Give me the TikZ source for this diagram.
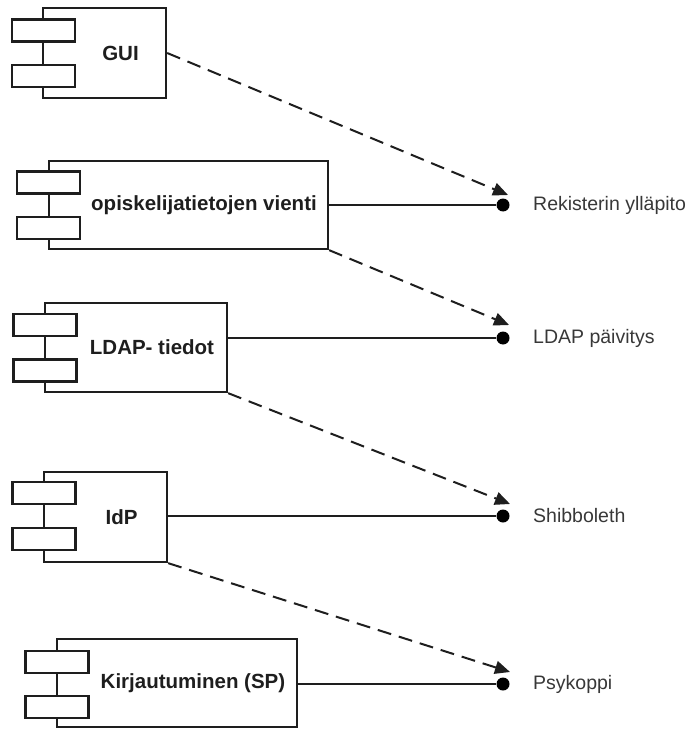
\documentclass[tikz,border=0pt]{standalone}
\usepackage{fontspec}
\setmainfont{Liberation Sans}
\usetikzlibrary{arrows.meta}
\definecolor{ink}{HTML}{1E1E1E}
\definecolor{labelink}{HTML}{383838}
\begin{document}
\begin{tikzpicture}[x=1pt,y=-1pt,
  compbox/.style={draw=ink,line width=2.3pt,fill=white,inner sep=0pt,
    minimum width=#1},
  comptab/.style={draw=ink,line width=2.3pt,fill=white,inner sep=0pt,
    minimum width=63pt,minimum height=22pt},
  compname/.style={text=ink,inner sep=0pt,font=\fontsize{20.5}{24}\selectfont\bfseries},
  port/.style={circle,fill=black,inner sep=0pt,minimum size=13pt},
  portname/.style={text=labelink,inner sep=0pt,anchor=west,font=\fontsize{19.5}{23}\selectfont},
  provide/.style={draw=ink,line width=2pt},
  depend/.style={draw=ink,line width=2pt,dash pattern=on 14pt off 8pt,
    -{Triangle[length=15pt,width=13pt]}}]
\useasboundingbox (0,0) rectangle (693,730);

% components: main body, two tabs on the left edge, name
\node[compbox=123pt,minimum height=90pt] (gui) at (104.5,53) {};
\node[comptab] (gui-t1) at (43.5,30.5) {};
\node[comptab] (gui-t2) at (43.5,76) {};
\node[compname] (gui-n) at (120.5,53) {GUI};

\node[compbox=279pt,minimum height=88pt] (vienti) at (188.5,205) {};
\node[comptab] (vienti-t1) at (48.5,182.5) {};
\node[comptab] (vienti-t2) at (48.5,228) {};
\node[compname] (vienti-n) at (204,205) {opiskelijatietojen vienti};

\node[compbox=182pt,minimum height=89pt] (ldap) at (136,347.5) {};
\node[comptab] (ldap-t1) at (45,325) {};
\node[comptab] (ldap-t2) at (45,370.5) {};
\node[compname] (ldap-n) at (152,347.5) {LDAP- tiedot};

\node[compbox=123pt,minimum height=90pt] (idp) at (105.5,517) {};
\node[comptab] (idp-t1) at (44,493) {};
\node[comptab] (idp-t2) at (44,539) {};
\node[compname] (idp-n) at (121.5,517) {IdP};

\node[compbox=240pt,minimum height=88pt] (sp) at (177,683) {};
\node[comptab] (sp-t1) at (57,662) {};
\node[comptab] (sp-t2) at (57,707) {};
\node[compname] (sp-n) at (193,683) {Kirjautuminen (SP)};

% provided interfaces
\node[port] (p1) at (503,205) {};
\node[port] (p2) at (503,338) {};
\node[port] (p3) at (503,516) {};
\node[port] (p4) at (503,684) {};
\node[portname] (p1-n) at (533,205) {Rekisterin ylläpito};
\node[portname] (p2-n) at (533,338) {LDAP päivitys};
\node[portname] (p3-n) at (533,516) {Shibboleth};
\node[portname] (p4-n) at (533,684) {Psykoppi};

\coordinate (u1) at (508,195);
\coordinate (u2) at (509,325);
\coordinate (u3) at (510,504);
\coordinate (u4) at (510,672);

% realisations
\draw[provide] (p1 -| vienti.east) -- (p1);
\draw[provide] (p2 -| ldap.east) -- (p2);
\draw[provide] (p3 -| idp.east) -- (p3);
\draw[provide] (p4 -| sp.east) -- (p4);

% dependencies
\draw[depend] (gui.east) -- (u1);
\draw[depend] (vienti.south east) -- (u2);
\draw[depend] (ldap.south east) -- (u3);
\draw[depend] (idp.south east) -- (u4);
\end{tikzpicture}
\end{document}
